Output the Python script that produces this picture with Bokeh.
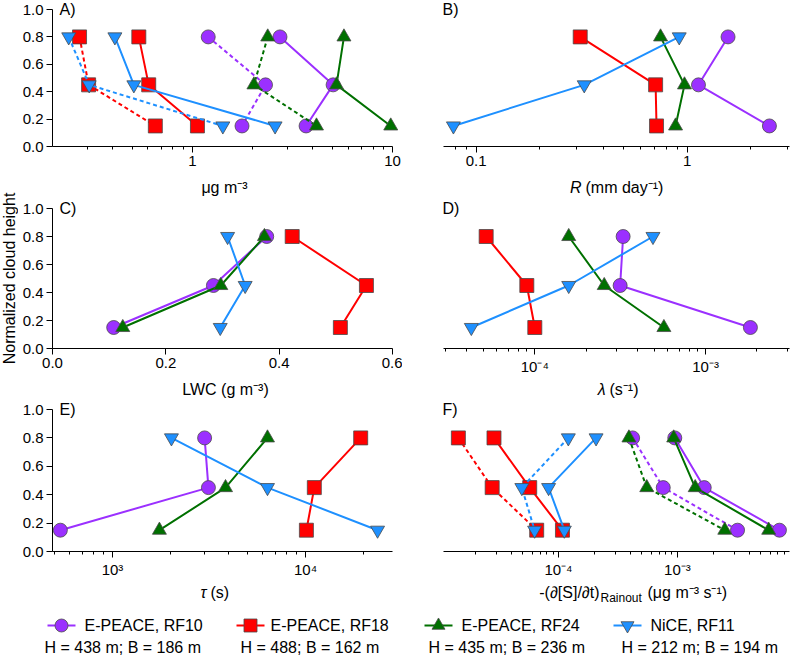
import math
from bokeh.plotting import figure
from bokeh.layouts import column, row
from bokeh.models import Range1d, FixedTicker, Label, NumeralTickFormatter
from bokeh.embed import file_html
from bokeh.resources import INLINE
from bokeh.core.properties import value

FONT = "Liberation Sans"

# ---------------- data ----------------
heights = [0.8, 0.45, 0.15]

series_names = ["E-PEACE, RF10", "E-PEACE, RF18", "E-PEACE, RF24", "NiCE, RF11"]
series_sub = ["H = 438 m; B = 186 m", "H = 488; B = 162 m", "H = 435 m; B = 236 m", "H = 212 m; B = 194 m"]
colors = ["#9B30FF", "#FF0000", "#007000", "#1E90FF"]
markers = ["circle", "square", "triangle", "inverted_triangle"]

# A) mass concentration (ug m-3): solid and dashed per flight
A_solid_rf10 = [2.74, 5.05, 3.70]
A_solid_rf18 = [0.54, 0.605, 1.06]
A_solid_rf24 = [5.72, 5.25, 9.8]
A_solid_rf11 = [0.41, 0.51, 2.59]
A_dash_rf10 = [1.20, 2.32, 1.77]
A_dash_rf18 = [0.273, 0.303, 0.653]
A_dash_rf24 = [2.38, 2.03, 4.17]
A_dash_rf11 = [0.241, 0.305, 1.42]

# B) rain rate R (mm day-1)
B_rf10 = [1.56, 1.13, 2.45]
B_rf18 = [0.311, 0.708, 0.715]
B_rf24 = [0.747, 0.97, 0.88]
B_rf11 = [0.916, 0.325, 0.078]

# C) LWC (g m-3)
C_rf10 = [0.378, 0.284, 0.108]
C_rf18 = [0.423, 0.554, 0.508]
C_rf24 = [0.374, 0.297, 0.124]
C_rf11 = [0.309, 0.340, 0.296]

# D) lambda (s-1)
D_rf10 = [3.29e-4, 3.16e-4, 1.83e-3]
D_rf18 = [5.19e-5, 8.98e-5, 1.0e-4]
D_rf24 = [1.58e-4, 2.55e-4, 5.7e-4]
D_rf11 = [4.92e-4, 1.58e-4, 4.25e-5]

# E) tau (s)
E_rf10 = [3000, 3140, 537]
E_rf18 = [19300, 11100, 10100]
E_rf24 = [6350, 3850, 1750]
E_rf11 = [2020, 6350, 23600]

# F) rainout rate (ug m-3 s-1)
F_solid_rf10 = [9.5e-4, 1.68e-3, 7.2e-3]
F_solid_rf18 = [2.87e-5, 5.73e-5, 1.08e-4]
F_solid_rf24 = [9.3e-4, 1.41e-3, 5.85e-3]
F_solid_rf11 = [2.07e-4, 8.26e-5, 1.12e-4]
F_dash_rf10 = [4.2e-4, 7.6e-4, 3.2e-3]
F_dash_rf18 = [1.44e-5, 2.77e-5, 6.56e-5]
F_dash_rf24 = [3.91e-4, 5.52e-4, 2.5e-3]
F_dash_rf11 = [1.21e-4, 4.92e-5, 6.3e-5]

y_ticks = [0.0, 0.2, 0.4, 0.6, 0.8, 1.0]

# ---------------- layout constants (pixels) ----------------
YL_W = 18                          # strip holding the shared y-axis title
LW, LB_L, RB_L = 384, 34, 10       # left column figure width / inner margins
RW, LB_R, RB_R = 389, 41, 2        # right column
ROWS = [(9, 137, 52), (10, 140, 51), (10, 142, 54)]  # (top, plot height, bottom)
IN_LEFT = [8 + YL_W + LB_L, 8 + YL_W + LW + LB_R]    # window x of plot-area left edges
TITLE_DY = 41
LEG_H = 54


def to_x(rng, frac, log):
    if log:
        a, b = math.log10(rng[0]), math.log10(rng[1])
        return 10 ** (a + frac * (b - a))
    return rng[0] + frac * (rng[1] - rng[0])


def make_fig(col, r, rng, log, major, minor, overrides=None, fmt=None, panel=""):
    top, fh, bot = ROWS[r]
    w, lb, rb = (LW, LB_L, RB_L) if col == 0 else (RW, LB_R, RB_R)
    fw = w - lb - rb
    xr = Range1d(to_x(rng, -lb / fw, log), to_x(rng, 1 + rb / fw, log))
    yr = Range1d(-bot / fh, 1.0 + top / fh)
    p = figure(width=w, height=top + fh + bot, x_range=xr, y_range=yr,
               x_axis_type="log" if log else "linear", output_backend="svg",
               toolbar_location=None, min_border=0, min_border_left=0, min_border_right=0,
               min_border_top=0, min_border_bottom=0)
    p.outline_line_color = None
    p.grid.visible = False
    for ax in (p.xaxis, p.yaxis):
        ax.axis_line_color = "black"
        ax.axis_line_width = 1
        ax.major_tick_line_color = "black"
        ax.minor_tick_line_color = "black"
        ax.major_tick_out = 6
        ax.major_tick_in = 0
        ax.minor_tick_out = 3
        ax.minor_tick_in = 0
        ax.major_label_text_font = FONT
        ax.major_label_text_font_size = "15px"
        ax.major_label_text_color = "black"
        ax.major_label_standoff = 3
    p.xaxis.fixed_location = 0
    p.xaxis.bounds = rng
    p.yaxis.fixed_location = rng[0]
    p.yaxis.bounds = (0, 1.0)
    p.xaxis.ticker = FixedTicker(ticks=major, minor_ticks=minor)
    if overrides:
        p.xaxis.major_label_overrides = overrides
    if fmt:
        p.xaxis.formatter = fmt
    p.yaxis.ticker = FixedTicker(ticks=y_ticks, minor_ticks=[])
    p.yaxis.formatter = NumeralTickFormatter(format="0.0")
    if col == 1:
        p.yaxis.visible = False
    p.add_layout(Label(x=rng[0], y=1.0, text=panel, text_baseline="middle",
                       x_offset=7 if col == 0 else -1, text_font=FONT,
                       text_font_size="16px", text_color="black"))
    return p


def title_parts(p, col, r, rng, log, anchor_px, parts):
    """parts: list of (text, align, italic, size, x_off, dy_px)"""
    top, fh, bot = ROWS[r]
    fw = (LW - LB_L - RB_L) if col == 0 else (RW - LB_R - RB_R)
    ax = to_x(rng, (anchor_px - IN_LEFT[col]) / fw, log)
    for text, align, italic, size, xo, dy in parts:
        p.add_layout(Label(x=ax, y=-(TITLE_DY + dy) / fh, text=text, text_align=align,
                           text_baseline="middle", x_offset=xo, text_font=FONT,
                           text_font_size=size, text_color="black",
                           text_font_style="italic" if italic else "normal"))


def draw(p, xs, color, marker, dashed=False):
    p.line(xs, heights, line_color=color, line_width=2,
           line_dash="4 3" if dashed else "solid")
    p.scatter(xs, heights, marker=marker, size=14,
              fill_color=color, line_color="#4a4a4a", line_width=0.8)


# ---------------- panel A ----------------
rngA = (0.2, 10)
pA = make_fig(0, 0, rngA, True, [1, 10],
              [0.3, 0.4, 0.5, 0.6, 0.7, 0.8, 0.9, 2, 3, 4, 5, 6, 7, 8, 9],
              overrides={1: "1", 10: "10"}, panel="A)")
A_solid = [A_solid_rf10, A_solid_rf18, A_solid_rf24, A_solid_rf11]
A_dash = [A_dash_rf10, A_dash_rf18, A_dash_rf24, A_dash_rf11]
for i in range(4):
    draw(pA, A_dash[i], colors[i], markers[i], dashed=True)
    draw(pA, A_solid[i], colors[i], markers[i])
title_parts(pA, 0, 0, rngA, True, 232, [("μg m⁻³", "center", False, "16px", 0, 0)])

# ---------------- panel B ----------------
rngB = (0.07, 3.05)
pB = make_fig(1, 0, rngB, True, [0.1, 1],
              [0.08, 0.09, 0.2, 0.3, 0.4, 0.5, 0.6, 0.7, 0.8, 0.9, 2, 3],
              overrides={0.1: "0.1", 1: "1"}, panel="B)")
for i, xs in enumerate([B_rf10, B_rf18, B_rf24, B_rf11]):
    draw(pB, xs, colors[i], markers[i])
title_parts(pB, 1, 0, rngB, True, 589,
            [("R", "right", True, "16px", 0, 0), ("(mm day⁻¹)", "left", False, "16px", 4, 0)])

# ---------------- panel C ----------------
rngC = (0.0, 0.6)
pC = make_fig(0, 1, rngC, False, [0.0, 0.2, 0.4, 0.6], [],
              fmt=NumeralTickFormatter(format="0.0"), panel="C)")
for i, xs in enumerate([C_rf10, C_rf18, C_rf24, C_rf11]):
    draw(pC, xs, colors[i], markers[i])
title_parts(pC, 0, 1, rngC, False, 233, [("LWC (g m⁻³)", "center", False, "16px", 0, 0)])

# ---------------- panel D ----------------
rngD = (2.92e-5, 3.1e-3)
pD = make_fig(1, 1, rngD, True, [1e-4, 1e-3],
              [3e-5, 4e-5, 5e-5, 6e-5, 7e-5, 8e-5, 9e-5,
               2e-4, 3e-4, 4e-4, 5e-4, 6e-4, 7e-4, 8e-4, 9e-4, 2e-3, 3e-3],
              overrides={1e-4: "10⁻⁴", 1e-3: "10⁻³"}, panel="D)")
for i, xs in enumerate([D_rf10, D_rf18, D_rf24, D_rf11]):
    draw(pD, xs, colors[i], markers[i])
title_parts(pD, 1, 1, rngD, True, 613,
            [("λ", "right", True, "16px", 0, 0), ("(s⁻¹)", "left", False, "16px", 4, 0)])

# ---------------- panel E ----------------
rngE = (489, 28200)
pE = make_fig(0, 2, rngE, True, [1e3, 1e4],
              [500, 600, 700, 800, 900, 2000, 3000, 4000, 5000, 6000, 7000, 8000, 9000, 20000],
              overrides={1000: "10³", 10000: "10⁴"}, panel="E)")
for i, xs in enumerate([E_rf10, E_rf18, E_rf24, E_rf11]):
    draw(pE, xs, colors[i], markers[i])
title_parts(pE, 0, 2, rngE, True, 214,
            [("τ", "right", True, "16px", 0, 0), ("(s)", "left", False, "16px", 4, 0)])

# ---------------- panel F ----------------
rngF = (1.08e-5, 8.75e-3)
pF = make_fig(1, 2, rngF, True, [1e-4, 1e-3],
              [2e-5, 3e-5, 4e-5, 5e-5, 6e-5, 7e-5, 8e-5, 9e-5,
               2e-4, 3e-4, 4e-4, 5e-4, 6e-4, 7e-4, 8e-4, 9e-4,
               2e-3, 3e-3, 4e-3, 5e-3, 6e-3, 7e-3, 8e-3],
              overrides={1e-4: "10⁻⁴", 1e-3: "10⁻³"}, panel="F)")
F_solid = [F_solid_rf10, F_solid_rf18, F_solid_rf24, F_solid_rf11]
F_dash = [F_dash_rf10, F_dash_rf18, F_dash_rf24, F_dash_rf11]
for i in range(4):
    draw(pF, F_dash[i], colors[i], markers[i], dashed=True)
    draw(pF, F_solid[i], colors[i], markers[i])
title_parts(pF, 1, 2, rngF, True, 607,
            [("-(∂[S]/∂t)", "right", False, "16px", 0, 0),
             ("Rainout", "left", False, "12px", 1, 5),
             ("(μg m⁻³ s⁻¹)", "left", False, "16px", 48, 0)])

# ---------------- shared y-axis title ----------------
total_h = sum(t + h + b for t, h, b in ROWS)
ylab = figure(width=YL_W, height=total_h, x_range=Range1d(0, YL_W), y_range=Range1d(0, total_h),
              output_backend="svg", toolbar_location=None, min_border=0)
ylab.axis.visible = False
ylab.grid.visible = False
ylab.outline_line_color = None
ylab.text(x=[9], y=[total_h - (286 - 8)], text=["Normalized cloud height"], angle=math.pi / 2,
          text_font=value(FONT), text_font_size="16px", text_align="center",
          text_baseline="middle", text_color="black")

# ---------------- legend ----------------
leg_w = YL_W + LW + RW
leg = figure(width=leg_w, height=LEG_H, x_range=Range1d(0, leg_w), y_range=Range1d(0, LEG_H),
             output_backend="svg", toolbar_location=None, min_border=0)
leg.axis.visible = False
leg.grid.visible = False
leg.outline_line_color = None
sample_cx = [61, 250, 438, 627]
name_x = [84, 270, 461, 650]
sub_x = [44, 240, 428, 621]
row1_y, row2_y = 34, 12
for i in range(4):
    leg.line([sample_cx[i] - 14, sample_cx[i] + 14], [row1_y, row1_y], line_color=colors[i], line_width=2)
    leg.scatter([sample_cx[i]], [row1_y], marker=markers[i], size=13, fill_color=colors[i],
                line_color="#4a4a4a", line_width=0.8)
leg.text(x=name_x, y=[row1_y] * 4, text=series_names, text_font=value(FONT),
         text_font_size="16px", text_baseline="middle", text_align="left", text_color="black")
leg.text(x=sub_x, y=[row2_y] * 4, text=series_sub, text_font=value(FONT),
         text_font_size="16px", text_baseline="middle", text_align="left", text_color="black")

grid = column(row(pA, pB), row(pC, pD), row(pE, pF))
layout = column(row(ylab, grid), leg)
open("out.html", "w").write(file_html(layout, INLINE))
